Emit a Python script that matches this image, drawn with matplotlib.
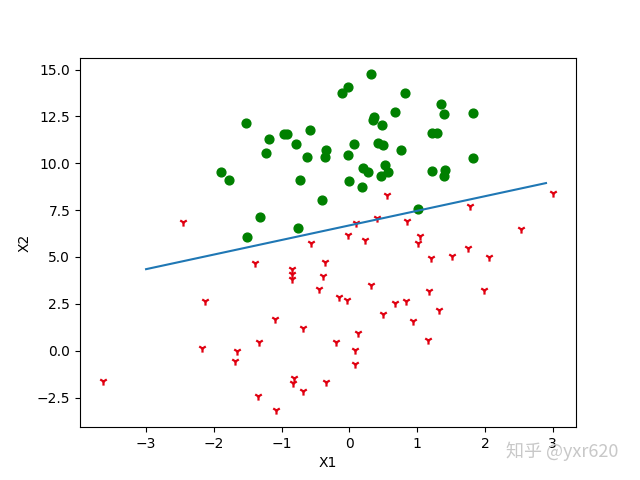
import numpy as np
import matplotlib
matplotlib.use('Agg')
import matplotlib.pyplot as plt

# class 0 (green) points
x1_g = [-0.017612, -0.752157, -1.322371, 0.423363, 0.667394, 0.569411, -0.026632, 1.347183,
        -1.781871, -0.576525, 1.217916, -0.733928, 1.416614, 1.224863, 0.275221, 0.470575,
        -1.889567, -1.527893, -1.185247, -0.618787, -1.237728, -0.959885, 0.492911, 0.184992,
        -0.355715, -0.397822, 0.824839, -0.344008, -0.918801, -0.007194, 0.356107, 0.342578,
        1.296683, 0.475487, -0.783277, 0.074798, -0.102781, 0.518389, 1.015399, -1.510047,
        1.821096, 1.400102, 1.825662, 0.197445, 0.761349, 1.388610, 0.317029]
x2_g = [14.053064, 6.538620, 7.152853, 11.054677, 12.741452, 9.548755, 10.427743, 13.175500,
        9.097953, 11.778922, 9.597015, 9.098687, 9.619232, 11.587360, 9.543647, 9.332488,
        9.542662, 12.150579, 11.309318, 10.320986, 10.549033, 11.555336, 10.993324, 8.721488,
        10.325976, 8.058397, 13.730343, 10.717485, 11.560217, 9.075792, 12.447863, 12.281162,
        11.607559, 12.040035, 11.009725, 11.023650, 13.763651, 9.887035, 7.571882, 6.061992,
        10.283990, 12.628781, 12.693808, 9.744638, 10.693862, 9.341997, 14.739025]

# class 1 (red) points
x1_r = [-1.395634, 0.406704, -2.460150, 0.850433, 1.176813, -0.566606, 0.931635, -0.024205,
        -0.036453, -0.196949, 1.014459, 1.985298, -1.693453, -0.346811, -2.124484, -3.642001,
        0.315985, -0.386323, 0.556921, -1.347803, 1.196604, -0.445678, 1.042222, 1.152083,
        0.828534, -0.683565, 0.229456, 1.507278, 0.099671, 1.785928, -0.364009, -0.841722,
        0.490426, -0.810823, 2.530777, -1.337472, -0.147324, -1.658086, 1.319944, 2.056216,
        -0.851633, -1.076637, 3.010150, -1.099458, -0.834872, -0.846637, 1.752842, 0.078557,
        0.089392, 0.126117, -0.679797, 0.677983, -2.168791]
x2_r = [4.662541, 7.067335, 6.866805, 6.920334, 3.167020, 5.749003, 1.589505, 6.151823,
        2.690988, 0.444165, 5.754399, 3.230619, -0.557540, -1.678730, 2.672471, -1.618087,
        3.523953, 3.989286, 8.294984, -2.406051, 4.951851, 3.297303, 6.105155, 0.548467,
        2.676045, -2.166125, 5.921938, 5.027866, 6.835839, 7.718645, 4.747300, 4.119083,
        1.960539, -1.466018, 6.476801, 0.468339, 2.874846, -0.027255, 2.171228, 5.019981,
        4.375691, -3.181888, 8.401766, 1.688274, -1.733869, 3.849075, 5.468166, 0.059736,
        -0.715300, 0.922311, 1.220530, 2.556666, 0.143632]

# fitted weights
weights = [4.12414349, 0.48007329, -0.6168482]

fig = plt.figure(figsize=(6.4, 4.8), dpi=100)
ax = fig.add_subplot(111)
ax.scatter(x1_r, x2_r, s=35, c='#e00010', marker='1', linewidths=1.6)
ax.scatter(x1_g, x2_g, s=40, c='green')
x = np.arange(-3.0, 3.0, 0.1)
y = (-weights[0] - weights[1] * x) / weights[2]
ax.plot(x, y)
ax.set_xlabel('X1')
ax.set_ylabel('X2')

fig.text(0.79, 0.047, '知乎 @yxr620', fontsize=13, color='#c8c8c8',
         family=['Noto Sans CJK SC', 'DejaVu Sans'])
fig.savefig('out.png')
